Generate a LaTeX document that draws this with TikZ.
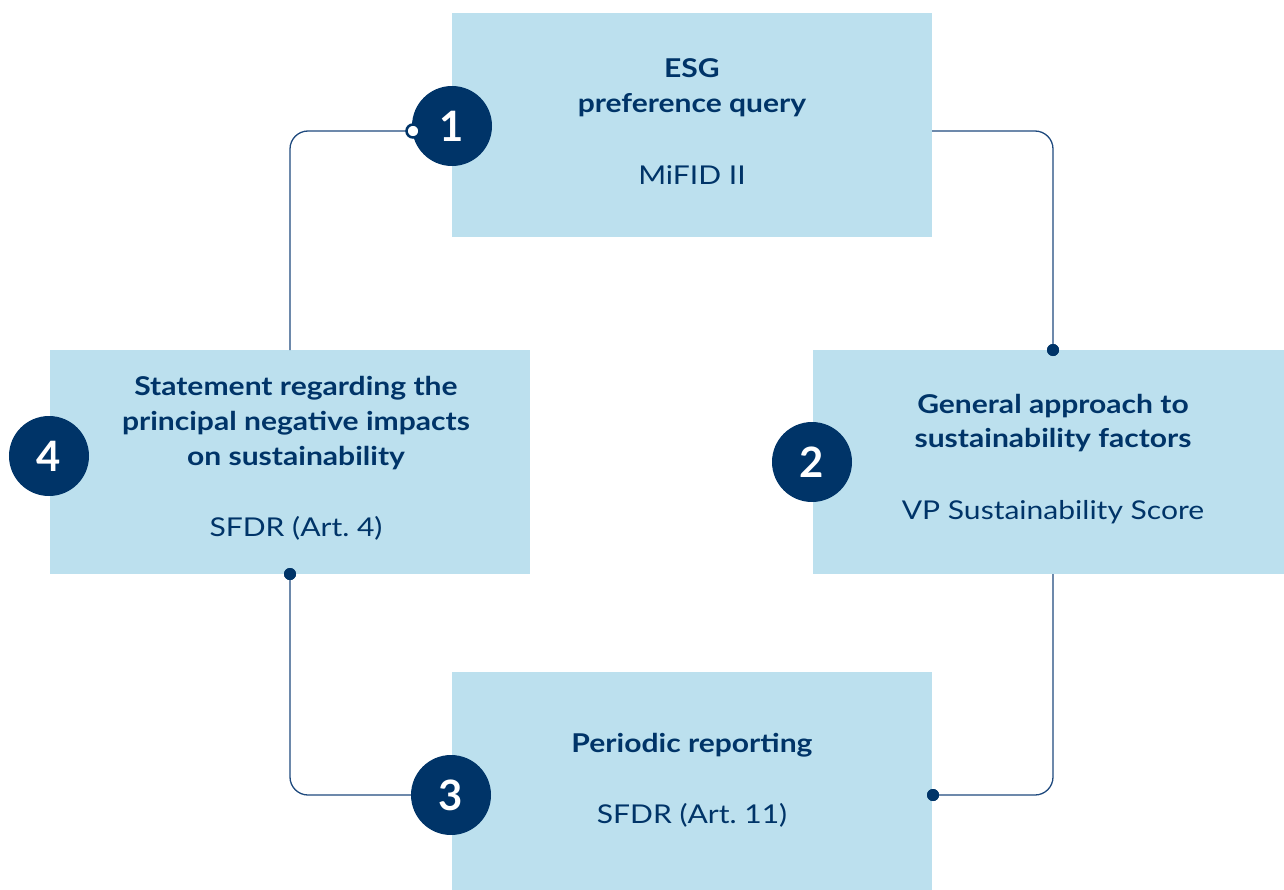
\documentclass[tikz,border=0pt]{standalone}
\usepackage{fontspec}
\setmainfont{Lato}[FakeStretch=1.16]
\newfontfamily\badgefont{Lato}
\frenchspacing
\definecolor{navy}{HTML}{003468}
\definecolor{pale}{HTML}{BCE0EE}
\definecolor{wire}{HTML}{1F4A7E}
\tikzset{
  panel/.style={fill=pale, draw=none, inner sep=0pt},
  head/.style={text=navy, font=\fontsize{26}{35}\selectfont\bfseries, align=center, inner sep=0pt},
  sub/.style={text=navy, font=\fontsize{26}{35}\selectfont, align=center, inner sep=0pt},
  badge/.style={circle, fill=navy, text=white, minimum size=80bp, inner sep=0pt,
    font=\badgefont\fontsize{42}{42}\selectfont\bfseries},
  conn/.style={draw=wire, line width=1.3bp, rounded corners=18bp},
  dot/.style={circle, fill=navy, minimum size=12bp, inner sep=0pt},
  odot/.style={circle, fill=white, draw=navy, line width=2.5bp, minimum size=13bp, inner sep=0pt},
}
\begin{document}
\begin{tikzpicture}[x=1bp, y=-1bp]
  \useasboundingbox (0,0) rectangle (1284,890);
  % panels
  \node[panel, minimum width=480bp, minimum height=224bp] (b1) at (692,125) {};
  \node[panel, minimum width=471bp, minimum height=224bp] (b2) at (1048.5,462) {};
  \node[panel, minimum width=480bp, minimum height=218bp] (b3) at (692,781) {};
  \node[panel, minimum width=480bp, minimum height=224bp] (b4) at (290,462) {};
  % texts
  \node[head] (t1) at (692,88) {ESG\\preference query};
  \node[sub] (s1) at (692,175) {MiFID II};
  \node[head] (t2) at (1053,423) {General approach to\\sustainability factors};
  \node[sub] (s2) at (1053,512) {VP Sustainability Score};
  \node[head] (t3) at (692,745) {Periodic reporting};
  \node[sub] (s3) at (692,815) {SFDR (Art. 11)};
  \node[head] (t4) at (296,423) {Statement regarding the\\principal negative impacts\\on sustainability};
  \node[sub] (s4) at (296,528) {SFDR (Art. 4)};
  % badges
  \node[badge] (c1) at (452,126) {1};
  \node[badge] (c2) at (812,462) {2};
  \node[badge] (c3) at (451,795) {3};
  \node[badge] (c4) at (49,456) {4};
  % connector ends
  \coordinate (a1) at (932,131);
  \coordinate (a2) at (1053,574);
  \coordinate (a4) at (290,350);
  \node[dot] (d2) at (1053,350) {};
  \node[dot] (d3) at (933,795) {};
  \node[dot] (d4) at (290,574) {};
  % connectors
  \draw[conn] (a1) -| (d2.center);
  \draw[conn] (a2) |- (d3.center);
  \draw[conn] (d4.center) |- (c3);
  \draw[conn] (a4) |- (412,131);
  \node[dot] at (d2) {};
  \node[dot] at (d3) {};
  \node[dot] at (d4) {};
  \node[odot] (o1) at (413,131) {};
\end{tikzpicture}
\end{document}
